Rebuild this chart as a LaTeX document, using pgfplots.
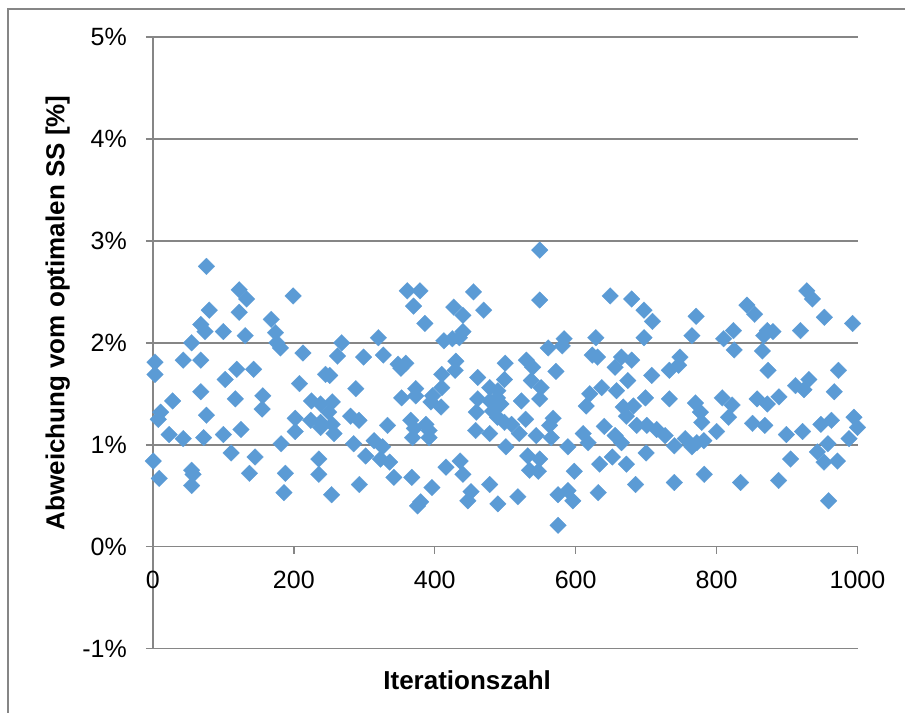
\documentclass[border=0pt]{standalone}
\usepackage{fontspec}
\setmainfont{Liberation Sans}
\usepackage{pgfplots}
\pgfplotsset{compat=1.18}
\definecolor{punkt}{RGB}{91,155,213}
\definecolor{gitter}{RGB}{134,134,134}

\pgfplotstableread{
x y
76 2.75
122.5 2.52
133 2.43
199 2.46
80 2.32
122.5 2.30
168 2.23
68 2.18
74 2.11
100 2.11
131 2.07
174 2.10
181 1.95
176 2.00
55 2.00
213 1.90
3 1.81
43 1.83
68 1.83
3 1.69
119 1.74
143 1.74
102.6 1.64
245 1.69
208 1.60
68 1.52
117 1.45
156 1.48
155 1.35
28 1.43
76 1.29
11 1.32
7.6 1.25
225 1.43
202 1.26
224 1.24
238 1.17
202 1.13
125 1.15
23 1.10
43 1.06
72 1.07
100 1.10
182 1.01
0.5 0.84
111 0.92
145 0.88
235.5 0.86
9 0.67
55 0.75
57 0.71
55 0.60
137 0.72
188 0.72
186 0.53
235.5 0.71
361 2.51
379 2.51
370 2.36
455 2.50
427 2.35
440 2.27
469.5 2.32
386 2.19
440 2.11
413 2.02
425 2.04
435 2.05
268 2.00
320 2.05
262 1.87
299 1.86
327 1.88
348 1.79
359 1.80
352 1.75
430 1.82
429 1.73
251 1.68
410 1.69
461 1.66
288 1.55
410 1.56
353 1.46
373 1.55
373 1.48
397 1.48
394.6 1.42
409 1.37
478 1.56
461 1.45
478 1.43
489 1.46
459 1.32
482 1.33
489 1.27
458 1.14
478 1.11
238 1.40
254.5 1.42
249.6 1.32
238 1.22
254.5 1.20
257 1.11
280.6 1.28
292.5 1.24
333 1.19
366 1.24
371 1.16
368.5 1.07
387.5 1.20
392 1.14
392 1.07
285 1.01
314 1.04
326 0.98
302 0.89
323 0.86
336 0.83
342 0.68
367.5 0.68
253.6 0.51
293 0.61
396 0.58
380 0.44
375.6 0.40
416 0.78
436 0.84
440 0.71
451.5 0.54
447 0.45
478 0.61
489.6 0.42
549 2.91
549 2.42
649 2.46
679.5 2.43
697 2.32
709 2.21
697 2.05
628.6 2.05
583.6 2.04
561 1.95
581 1.97
623.5 1.88
631 1.86
500 1.80
530 1.83
539 1.76
572 1.72
665 1.86
679.5 1.83
656 1.76
733 1.73
708 1.68
499 1.64
489.6 1.53
494 1.40
537 1.63
551 1.56
549 1.45
523 1.43
674 1.63
637 1.56
658 1.53
620 1.50
615 1.38
699 1.46
733 1.45
667.5 1.37
682 1.38
672 1.28
529 1.25
509 1.20
499 1.22
568 1.26
563 1.19
520 1.11
544 1.09
565.5 1.07
589 0.98
501 0.98
610.7 1.11
617.7 1.02
640.6 1.18
656 1.09
665 1.02
686.6 1.19
701 1.19
715 1.15
727 1.09
740 0.99
532 0.89
549 0.86
534.6 0.75
547 0.74
598 0.74
634 0.81
652 0.88
672 0.81
700 0.92
518 0.49
575 0.51
589 0.55
596 0.45
575 0.21
632 0.53
685 0.61
740 0.63
928 2.51
936 2.43
843 2.37
854 2.28
771 2.26
953 2.25
993 2.19
824 2.12
872 2.12
880 2.11
919 2.12
765 2.07
810 2.04
867 2.07
825 1.93
865 1.92
748 1.86
746 1.78
873 1.73
973 1.73
931 1.64
912 1.58
924 1.54
967 1.52
770 1.41
808 1.46
822 1.39
857.5 1.45
872 1.40
888.5 1.47
777 1.32
779 1.22
817 1.27
851 1.21
868.5 1.19
948 1.20
963 1.24
995 1.27
1000 1.17
800 1.13
899 1.10
922 1.13
988 1.06
755.6 1.06
765 0.98
782 1.04
772 1.02
943 0.93
958 1.01
952.5 0.83
971.5 0.84
905 0.86
782.5 0.71
834 0.63
888 0.65
959 0.45
}\punkte

\begin{document}
\begin{tikzpicture}
\begin{axis}[
    scale only axis,
    width=352.5pt, height=306pt,
    xmin=0, xmax=1000, ymin=-1, ymax=5,
    enlargelimits=false,
    clip=false,
    axis x line=middle, axis y line=left,
    axis line style={gitter, line width=0.75pt, -},
    xtick={0,200,...,1000},
    xticklabels={0,200,400,600,800,1000},
    ytick={-1,0,...,5},
    yticklabels={-1\%,0\%,1\%,2\%,3\%,4\%,5\%},
    hide obscured x ticks=false, hide obscured y ticks=false,
    ymajorgrids,
    grid style={gitter, line width=0.75pt},
    tick align=outside, major tick length=3.5pt,
    tick style={gitter, line width=0.75pt},
    tick label style={font=\fontsize{12.5}{14}\selectfont},
    xticklabel style={anchor=north, yshift=-5pt},
    yticklabel style={anchor=east, xshift=-6pt},
    xlabel={Iterationszahl},
    ylabel={Abweichung vom optimalen SS [\%]},
    label style={font=\bfseries\fontsize{13}{15}\selectfont},
    xlabel style={at={(axis description cs:0.446,-0.051)}, anchor=center},
    ylabel style={at={(axis description cs:-0.135,0.549)}, anchor=center, rotate=0},
]
% untere Gitterlinie bei -1 %
\draw[gitter, line width=0.8pt] (axis cs:0,-1) -- (axis cs:1000,-1);
\addplot[only marks, color=punkt, mark=square*, mark size=2.95pt,
    mark options={rotate=45, fill=punkt, draw=punkt, line width=0.1pt}] table[x=x, y=y] {\punkte};
\draw[gitter, line width=0.6pt] (rel axis cs:-0.2057,-0.1046) -- (rel axis cs:-0.2057,1.0458) -- (rel axis cs:1.068,1.0458);
\path (rel axis cs:-0.217,-0.1046) rectangle (rel axis cs:1.068,1.0605);
\end{axis}
\end{tikzpicture}
\end{document}
